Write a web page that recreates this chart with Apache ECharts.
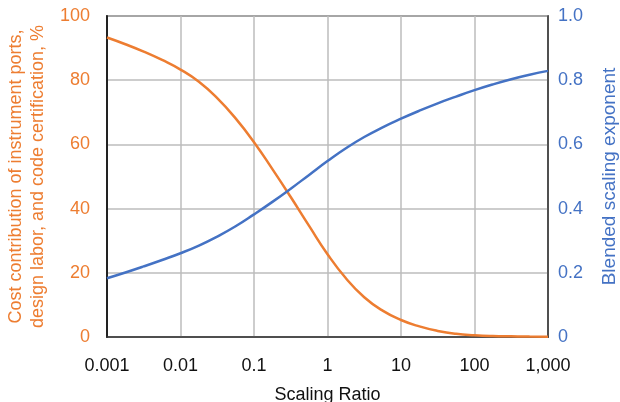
<!DOCTYPE html>
<html>
<head>
<meta charset="utf-8">
<script src="https://cdn.jsdelivr.net/npm/echarts@6/dist/echarts.min.js"></script>
<style>
  html, body { margin: 0; padding: 0; background: #fff; }
  #chart { width: 620px; height: 402px; }
</style>
</head>
<body>
<div id="chart"></div>
<script>
// scaling ratio samples, a quarter decade apart on the log x axis
const ratios = [0.001, 0.00178, 0.00316, 0.00562, 0.01, 0.0178, 0.0316, 0.0562, 0.1, 0.178, 0.316, 0.562,
  1, 1.78, 3.16, 5.62, 10, 17.8, 31.6, 56.2, 100, 178, 316, 562, 1000]
// cost contribution, % (left axis)
const costShare = [93.3, 91.2, 88.9, 86.3, 83.3, 79.5, 74.4, 68.1, 60.7, 52.3, 43.6, 34.6,
  25.8, 18.3, 12.4, 8.2, 5.3, 3.3, 1.9, 1.0, 0.55, 0.3, 0.2, 0.12, 0.1]
// blended scaling exponent (right axis)
const exponent = [0.183, 0.201, 0.22, 0.24, 0.261, 0.285, 0.313, 0.345, 0.382, 0.421, 0.462, 0.505,
  0.548, 0.588, 0.623, 0.653, 0.68, 0.705, 0.728, 0.749, 0.769, 0.787, 0.803, 0.817, 0.829]
const xLabels = ['0.001', '0.01', '0.1', '1', '10', '100', '1,000']

const orange = '#ED7D31'
const blue = '#4472C4'
const font = '"Liberation Sans", Helvetica, Arial, sans-serif'

const chart = echarts.init(document.getElementById('chart'))
const option = {
  animation: false,
  textStyle: { fontFamily: font },
  grid: {
    left: 107,
    right: 72,
    top: 16,
    bottom: 65,
    outerBoundsMode: 'none',
    show: true,
    borderColor: '#333',
    borderWidth: 1.5
  },
  xAxis: {
    type: 'log',
    logBase: 10,
    min: 0.001,
    max: 1000,
    name: 'Scaling Ratio',
    nameLocation: 'middle',
    nameGap: 49,
    nameTextStyle: { color: '#111', fontSize: 18, fontFamily: font },
    axisLine: { show: true, lineStyle: { color: '#333', width: 1.5 } },
    axisTick: { show: false },
    axisLabel: {
      color: '#111',
      fontSize: 18,
      margin: 20,
      formatter: (v) => xLabels[Math.round(Math.log10(v)) + 3]
    },
    splitLine: { show: true, lineStyle: { color: '#bdbdbd', width: 1.5 } }
  },
  yAxis: [{
    type: 'value',
    min: 0,
    max: 100,
    interval: 20,
    name: 'Cost contribution of instrument ports,\ndesign labor, and code certification, %',
    nameLocation: 'middle',
    nameGap: 51,
    nameTextStyle: { color: orange, fontSize: 18, lineHeight: 22, fontFamily: font },
    axisLine: { show: true, lineStyle: { color: '#222', width: 2 } },
    axisTick: { show: false },
    axisLabel: { color: orange, fontSize: 18, margin: 17 },
    splitLine: { show: true, lineStyle: { color: '#bdbdbd', width: 1.5 } }
  }, {
    type: 'value',
    min: 0,
    max: 1,
    interval: 0.2,
    name: 'Blended scaling exponent',
    nameLocation: 'middle',
    nameGap: 52,
    nameTextStyle: { color: blue, fontSize: 19, fontFamily: font },
    axisLine: { show: true, lineStyle: { color: '#333', width: 1.5 } },
    axisTick: { show: false },
    axisLabel: {
      color: blue,
      fontSize: 18,
      margin: 10,
      formatter: (v) => v === 0 ? '0' : v.toFixed(1)
    },
    splitLine: { show: false }
  }],
  series: [{
    name: 'Cost contribution',
    type: 'line',
    yAxisIndex: 0,
    smooth: true,
    symbol: 'none',
    lineStyle: { color: orange, width: 2.5 },
    data: ratios.map((r, i) => [r, costShare[i]])
  }, {
    name: 'Blended scaling exponent',
    type: 'line',
    yAxisIndex: 1,
    smooth: true,
    symbol: 'none',
    lineStyle: { color: blue, width: 2.5 },
    data: ratios.map((r, i) => [r, exponent[i]])
  }]
}
chart.setOption(option)
</script>
</body>
</html>
